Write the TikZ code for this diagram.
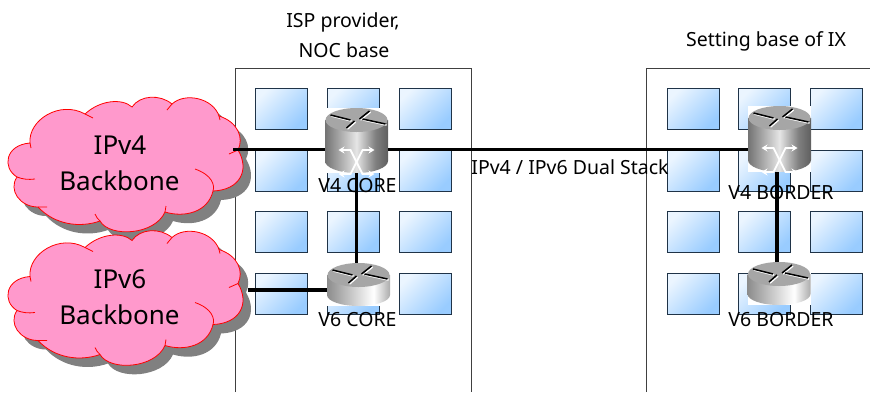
\documentclass[tikz,border=0pt]{standalone}
\usepackage{fontspec}
\setmainfont{Noto Sans}
\usetikzlibrary{arrows.meta}

\definecolor{cloudpink}{HTML}{FF99CC}
\definecolor{windowblue}{HTML}{99CCFF}
\definecolor{windowedge}{HTML}{1F3347}

\pgfdeclarehorizontalshading{plainbody}{100bp}{color(0bp)=(black!50); color(25bp)=(black!45); color(62bp)=(white); color(80bp)=(black!45); color(100bp)=(black!70)}
\pgfdeclarehorizontalshading{crossbody}{100bp}{color(0bp)=(black!60); color(25bp)=(black!55); color(50bp)=(black!10); color(65bp)=(black!50); color(100bp)=(black!95)}

% Outline of a cloud in its own pixel coordinates
\newcommand{\cloudoutline}{(30,53) .. controls (28,30) and (60,10) .. (85,24)
  .. controls (100,10) and (122,8) .. (132,17)
  .. controls (140,5) and (160,4) .. (172,14)
  .. controls (185,2) and (213,8) .. (219,26)
  .. controls (238,32) and (244,48) .. (238,60)
  .. controls (250,80) and (240,100) .. (213,101)
  .. controls (208,122) and (185,128) .. (165,122)
  .. controls (155,145) and (110,148) .. (100,131)
  .. controls (80,138) and (55,135) .. (38,117)
  .. controls (20,117) and (8,100) .. (17,87)
  .. controls (2,78) and (5,55) .. (30,53) -- cycle}

\tikzset{
  windowbox/.style={draw=windowedge,line width=0.8pt,top color=windowblue!20,bottom color=windowblue,shading angle=45},
  buildingline/.style={draw=black!75,line width=1pt},
  linkline/.style={draw=black,line width=3.4pt},
  routerbox/.style={draw=none,fill=white,minimum width=63pt,inner sep=0pt,outer sep=0pt},
  labeltext/.style={font=\fontsize{#1}{#1}\selectfont,inner sep=0pt},
  labeltext/.default=19.5,
  pics/pinkcloud/.style={code={
    \fill[black!50,shift={(8,9)}] \cloudoutline;
    \draw[red,fill=cloudpink,line width=0.8pt] \cloudoutline;
    \draw[red,line width=0.8pt] (30,53) -- (31,58) (85,24) -- (93,28) (172,14) -- (167,20)
      (219,26) -- (220,30) (238,60) -- (229,64) (165,122) -- (166,116)
      (195,79) .. controls (212,85) and (215,95) .. (213,101)
      (95,124) .. controls (96,127) and (98,129) .. (100,131)
      (47,117) -- (38,117) (35,89) .. controls (28,90) and (22,89) .. (17,87);
  }},
  pics/routertop/.style={code={
    % Lid of the router with its four marks
    \fill[black!35] (0,0) ellipse[x radius=31,y radius=12];
    \foreach \ax/\ay/\bx/\by in {-26/-5/-6/0, 13/-9/3/-1, -10/8/-2/1, 29/4/6/-1} {
      \draw[white,line width=1.6pt] (\ax+1,\ay+1) -- (\bx+1,\by+1);
      \draw[black,line width=1.5pt] (\ax,\ay) -- (\bx,\by);
    }
  }},
  pics/routercross/.style={code={
    \draw[white,line width=1.8pt,{Stealth[length=6pt,width=7pt]}-{Stealth[length=6pt,width=7pt]}] (-18,-12) -- (-6,-12) -- (6,12) -- (18,12);
    \draw[white,line width=1.8pt,{Stealth[length=6pt,width=7pt]}-{Stealth[length=6pt,width=7pt]}] (18,-12) -- (6,-12) -- (-6,12) -- (-18,12);
  }}
}

\begin{document}
\begin{tikzpicture}[x=1pt,y=-1pt]
  \useasboundingbox (0,0) rectangle (870,392);

  % Draw the two buildings
  \draw[buildingline] (235,392) -- (235,68) -- (471,68) -- (471,392);
  \draw[buildingline] (646,392) -- (646,68) -- (875,68);

  % Add the windows of both buildings
  \foreach \y in {88,150,211,273} {
    \foreach \x in {255,327,399,667,738,810} {
      \path[windowbox] (\x,\y) rectangle (\x+52,\y+41);
    }
  }

  % Clouds on the left
  \pic at (0,90) {pinkcloud};
  \pic at (0,223.5) {pinkcloud};
  \node[labeltext=26] (v4backbone) at (120,145) {IPv4};
  \node[labeltext=26] (v4backbonetwo) at (119.5,181) {Backbone};
  \node[labeltext=26] (v6backbone) at (120,279) {IPv6};
  \node[labeltext=26] (v6backbonetwo) at (119.5,315) {Backbone};

  % Routers: white box, body, then the lid
  \node[routerbox,minimum height=65pt] (v4core) at (356.5,140.5) {};
  \node[routerbox,minimum height=43pt] (v6core) at (358.5,284.5) {};
  \node[routerbox,minimum height=66pt] (v4border) at (779.5,139) {};
  \node[routerbox,minimum height=43pt] (v6border) at (779,283.5) {};

  \foreach \cx/\ty/\by in {356.5/120/161, 779.5/118/160} {
    \path[shading=crossbody] (\cx-31.5,\ty) -- (\cx-31.5,\by) arc[start angle=180,end angle=0,x radius=31.5,y radius=12] -- (\cx+31.5,\ty) -- cycle;
    \pic at (\cx,\ty) {routertop};
    \pic at (\cx,\ty+42) {routercross};
  }
  \foreach \cx/\ty/\by in {358.5/275/295, 779/274/294} {
    \path[shading=plainbody] (\cx-31.5,\ty) -- (\cx-31.5,\by) arc[start angle=180,end angle=0,x radius=31.5,y radius=11] -- (\cx+31.5,\ty) -- cycle;
    \pic at (\cx,\ty) {routertop};
  }

  % Labels
  \node[labeltext] (ispline) at (343,22) {ISP provider,};
  \node[labeltext] (nocline) at (344,50) {NOC base};
  \node[labeltext] (ixline) at (766,41) {Setting base of IX};
  \node[labeltext] (v4corelabel) at (357.5,186) {V4 CORE};
  \node[labeltext] (v6corelabel) at (357.5,320) {V6 CORE};
  \node[labeltext] (v4borderlabel) at (781,193) {V4 BORDER};
  \node[labeltext] (v6borderlabel) at (781,320) {V6 BORDER};
  \node[labeltext] (dualstack) at (570,167) {IPv4 / IPv6 Dual Stack};

  % Links between the clouds and routers
  \coordinate (v4cloudend) at (233,149.5);
  \coordinate (v6cloudend) at (248,290);
  \draw[linkline] (v4cloudend) -- (v4cloudend -| v4core.west);
  \draw[linkline] (v6cloudend) -- (v6cloudend -| v6core.west);
  \draw[linkline] (v4cloudend -| v4core.east) -- (v4cloudend -| v4border.west);
  \draw[linkline] (v4core.south) -- (v4core.south |- v6core.north);
  \draw[linkline] ([xshift=-2.5pt]v4border.south) -- ([xshift=-2.5pt]v4border.south |- v6border.north);
\end{tikzpicture}
\end{document}
